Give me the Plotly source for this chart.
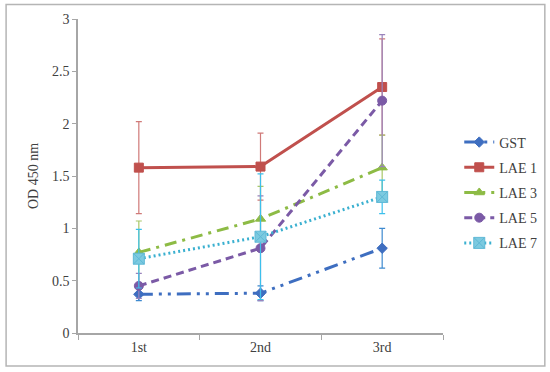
import plotly.graph_objects as go

categories = ["1st", "2nd", "3rd"]
series_names = ["GST", "LAE 1", "LAE 3", "LAE 5", "LAE 7"]
gst = [0.37, 0.38, 0.81]
gst_err = [0.06, 0.07, 0.19]
lae1 = [1.58, 1.59, 2.35]
lae1_err = [0.44, 0.32, 0.46]
lae3 = [0.77, 1.09, 1.58]
lae3_err = [0.30, 0.31, 0.31]
lae5 = [0.45, 0.81, 2.22]
lae5_err = [0.12, 0.50, 0.63]
lae7 = [0.71, 0.92, 1.30]
lae7_err = [0.28, 0.60, 0.16]
y_ticks = [0, 0.5, 1, 1.5, 2, 2.5, 3]

values = [gst, lae1, lae3, lae5, lae7]
errors = [gst_err, lae1_err, lae3_err, lae5_err, lae7_err]
line_colors = ["#3E6EC0", "#C0504D", "#8DBB45", "#7B5AA6", "#3AB0D0"]
marker_colors = ["#3E6EC0", "#C0504D", "#8DBB45", "#7B5AA6", "#7CCAE0"]
err_colors = ["#3E8AD0", "#D07A78", "#A9C86A", "#9A84BC", "#3CC0EC"]
dashes = ["14px,6px,3px,6px,3px,6px", "solid", "12px,6px,3px,6px", "8px,5px", "2px,3px"]
symbols = ["diamond", "square", "triangle-up", "circle", "square-x"]
msizes = [8, 9, 9, 9, 11]

serif = "Liberation Serif"

fig = go.Figure()
for i, name in enumerate(series_names):
    fig.add_trace(go.Scatter(
        x=categories, y=values[i], name=name, mode="lines+markers",
        legendgroup=name,
        line=dict(color=line_colors[i], width=3, dash=dashes[i]),
        marker=dict(symbol=symbols[i], size=msizes[i], color=marker_colors[i],
                    line=dict(color=marker_colors[i] if i != 4 else "#5FB8D6", width=1)),
        error_y=dict(type="data", array=errors[i], color=err_colors[i],
                     thickness=1.2, width=3, visible=True),
    ))

fig.update_layout(
    width=550, height=372,
    margin=dict(l=78, r=107, t=19, b=39, autoexpand=False),
    paper_bgcolor="white", plot_bgcolor="white",
    font=dict(family=serif, size=13, color="#404040"),
    showlegend=True,
    legend=dict(xref="container", yref="container", x=0.835, y=0.66,
                xanchor="left", yanchor="top",
                font=dict(family=serif, size=14, color="#404040"),
                traceorder="grouped", tracegroupgap=4,
                itemwidth=30, bgcolor="rgba(0,0,0,0)"),
    xaxis=dict(type="category", showline=True, linecolor="#A6A6A6", linewidth=1.5,
               ticks="outside", tickson="boundaries", ticklen=5, tickcolor="#A6A6A6",
               showgrid=False, zeroline=False, range=[-0.5, 2.5], automargin=False,
               tickfont=dict(family=serif, size=14, color="#404040")),
    yaxis=dict(range=[0, 3], tickvals=y_ticks, showline=True, linecolor="#A6A6A6",
               linewidth=1.5, ticks="outside", ticklen=4, tickcolor="#A6A6A6",
               showgrid=False, zeroline=False, automargin=False,
               tickfont=dict(family=serif, size=14, color="#404040"),
               title=dict(text="OD 450 nm", standoff=10,
                          font=dict(family=serif, size=14, color="#404040"))),
    shapes=[dict(type="rect", xref="paper", yref="paper",
                 x0=-0.197, x1=1.279, y0=-0.105, y1=1.046,
                 line=dict(color="#B5B5B5", width=1.5), layer="below")],
)

fig.write_html("out.html", config={"displayModeBar": False},
               post_script="document.body.style.margin='0';document.body.style.overflow='hidden';")
